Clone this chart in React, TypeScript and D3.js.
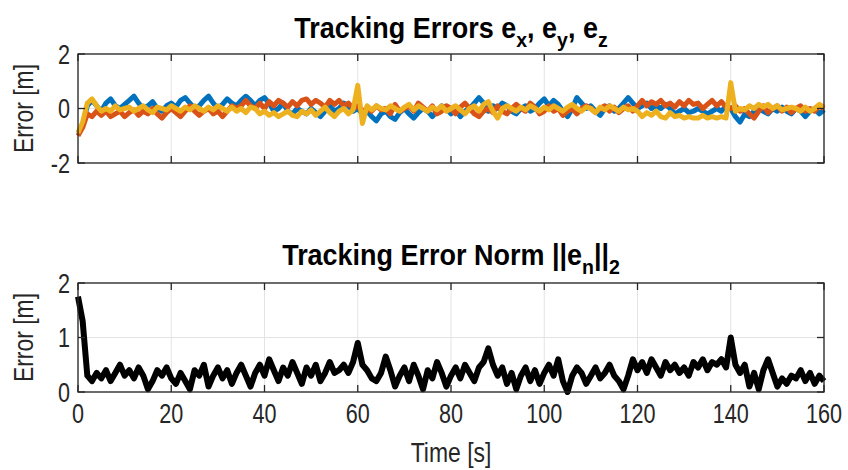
import React from "react";
import * as d3 from "d3";

const timeSeconds = d3.range(0, 161);

const errorX = [
  -0.9, -0.6, 0.1, 0.3, 0.1, -0.1, 0.2, 0.35, 0.1, 0.0, 0.15, 0.3, 0.45, 0.2, 0.0, 0.1, 0.25, 0.0, -0.1, 0.1,
  0.2, 0.05, 0.3, 0.4, 0.2, 0.0, 0.1, 0.3, 0.45, 0.2, 0.0, 0.15, 0.35, 0.2, 0.1, 0.3, 0.45, 0.3, 0.1, 0.3,
  0.4, 0.2, -0.1, 0.0, 0.2, -0.1, -0.2, 0.0, -0.1, -0.2, 0.0, -0.15, -0.3, -0.1, 0.1, -0.1, 0.0, 0.2, 0.1, -0.1,
  0.0, -0.2, -0.1, -0.3, -0.45, -0.2, -0.1, -0.3, -0.4, -0.15, 0.0, -0.2, -0.35, -0.15, 0.0, -0.1, -0.3, -0.1, 0.1, 0.0,
  -0.2, -0.05, -0.3, -0.1, 0.0, 0.2, 0.4, 0.2, -0.1, 0.1, 0.0, 0.2, 0.1, -0.1, -0.2, 0.0, 0.1, -0.1, 0.0, 0.2,
  0.35, 0.1, 0.3, 0.15, -0.1, -0.3, 0.0, 0.4, 0.2, 0.0, 0.1, -0.1, -0.25, 0.0, 0.1, -0.1, 0.0, 0.2, 0.4, 0.2,
  0.0, 0.1, 0.2, 0.0, 0.1, 0.0, 0.15, 0.0, -0.2, -0.1, 0.0, -0.15, -0.1, 0.0, -0.1, -0.2, -0.1, 0.0, -0.1, 0.1,
  0.0, -0.3, -0.5, -0.2, -0.3, -0.1, 0.0, -0.1, -0.2, 0.0, -0.1, 0.05, -0.1, -0.2, 0.0, -0.1, -0.3, -0.1, 0.0, -0.2,
  -0.05,
];

const errorY = [
  -1.0, -0.7, -0.2, -0.3, -0.1, -0.25, -0.1, -0.3, -0.2, -0.1, -0.3, -0.15, -0.05, -0.25, -0.1, -0.2, 0.0, -0.2, -0.35, -0.15,
  0.0, -0.15, -0.3, -0.1, 0.1, -0.1, -0.25, -0.1, 0.0, -0.2, -0.1, -0.3, -0.1, 0.1, 0.0, 0.1, 0.3, 0.1, 0.0, 0.2,
  0.0, 0.25, 0.1, 0.3, 0.2, 0.05, 0.25, 0.1, 0.3, 0.35, 0.15, 0.3, 0.2, 0.05, 0.3, 0.15, 0.3, 0.1, 0.2, 0.0,
  0.1, -0.1, 0.0, -0.1, 0.1, -0.05, 0.0, -0.2, 0.15, -0.1, 0.0, 0.1, -0.1, 0.2, 0.05, -0.1, 0.1, -0.2, -0.1, 0.1,
  0.0, -0.2, 0.05, 0.2, 0.0, -0.2, -0.3, -0.1, 0.0, -0.15, 0.1, -0.1, -0.2, 0.0, 0.15, 0.0, -0.1, 0.2, 0.05, -0.2,
  -0.1, 0.1, -0.1, 0.0, -0.25, -0.1, 0.0, -0.2, 0.0, 0.1, 0.0, -0.15, 0.0, 0.1, -0.1, 0.05, -0.15, 0.0, 0.1, -0.1,
  0.1, 0.3, 0.1, 0.25, 0.15, 0.3, 0.1, 0.2, 0.05, 0.25, 0.1, 0.3, 0.15, 0.2, 0.0, 0.15, 0.3, 0.1, 0.25, 0.05,
  0.0, 0.1, -0.1, 0.0, -0.2, -0.35, -0.1, 0.1, -0.15, 0.0, 0.1, -0.1, 0.05, -0.15, 0.0, 0.1, -0.1, 0.0, -0.1, 0.1,
  0.0,
];

const errorZ = [
  -0.9, -0.5, 0.2, 0.35, 0.1, -0.1, 0.0, -0.1, 0.1, -0.05, 0.0, 0.05, -0.1, 0.0, 0.1, -0.05, -0.15, 0.05, 0.0, -0.05,
  0.1, 0.0, -0.1, 0.05, -0.05, 0.1, 0.0, -0.1, 0.05, -0.05, 0.1, 0.0, -0.1, 0.05, -0.1, 0.0, -0.15, 0.05, 0.0, -0.2,
  -0.1, -0.25, -0.15, -0.3, -0.2, -0.1, -0.25, -0.3, -0.1, -0.2, -0.05, -0.25, -0.1, 0.05, -0.15, -0.3, -0.1, 0.0, -0.2, -0.05,
  0.85, -0.55, 0.1, -0.05, 0.1, 0.0, -0.05, 0.1, 0.0, -0.1, 0.05, 0.15, -0.05, 0.1, 0.0, -0.1, 0.05, -0.05, 0.1, -0.1,
  0.0, 0.1, -0.05, -0.2, 0.0, 0.1, -0.1, 0.15, 0.25, -0.1, -0.35, 0.0, 0.1, 0.0, -0.1, 0.05, -0.05, 0.1, 0.0, -0.1,
  0.05, -0.05, 0.1, 0.0, -0.1, 0.05, 0.15, 0.0, -0.1, 0.05, 0.0, -0.15, 0.05, -0.05, 0.1, 0.0, -0.1, 0.05, -0.05, 0.0,
  -0.1, -0.3, -0.15, -0.25, -0.1, -0.3, -0.35, -0.15, -0.3, -0.25, -0.35, -0.3, -0.35, -0.35, -0.25, -0.35, -0.3, -0.35, -0.3, -0.35,
  0.95, -0.1, 0.0, -0.05, 0.1, 0.0, 0.15, 0.05, 0.15, 0.0, 0.1, -0.05, 0.0, 0.05, 0.0, -0.1, 0.05, -0.1, 0.0, 0.15,
  0.05,
];

const errorNorm = [
  1.75, 1.3, 0.3, 0.2, 0.35, 0.25, 0.4, 0.2, 0.35, 0.5, 0.3, 0.4, 0.25, 0.45, 0.3, 0.05, 0.2, 0.4, 0.3, 0.45,
  0.25, 0.15, 0.35, 0.2, 0.05, 0.4, 0.3, 0.5, 0.1, 0.3, 0.45, 0.25, 0.4, 0.15, 0.35, 0.5, 0.3, 0.1, 0.35, 0.5,
  0.3, 0.6, 0.4, 0.2, 0.45, 0.3, 0.55, 0.35, 0.15, 0.45, 0.3, 0.5, 0.2, 0.35, 0.55, 0.35, 0.4, 0.5, 0.35, 0.55,
  0.9, 0.5, 0.4, 0.25, 0.2, 0.35, 0.65, 0.4, 0.1, 0.3, 0.45, 0.2, 0.5, 0.3, 0.05, 0.4, 0.25, 0.55, 0.35, 0.1,
  0.3, 0.45, 0.25, 0.5, 0.35, 0.2, 0.45, 0.55, 0.8, 0.5, 0.3, 0.45, 0.15, 0.35, 0.05, 0.3, 0.45, 0.2, 0.4, 0.15,
  0.35, 0.5, 0.3, 0.6, 0.2, 0.0, 0.3, 0.45, 0.35, 0.15, 0.3, 0.45, 0.25, 0.35, 0.5, 0.3, 0.2, 0.05, 0.3, 0.6,
  0.4, 0.55, 0.35, 0.6, 0.45, 0.3, 0.55, 0.4, 0.5, 0.35, 0.45, 0.3, 0.55, 0.45, 0.6, 0.4, 0.55, 0.5, 0.6, 0.45,
  1.0, 0.5, 0.35, 0.5, 0.1, 0.35, 0.05, 0.4, 0.6, 0.35, 0.1, 0.25, 0.15, 0.3, 0.25, 0.4, 0.2, 0.35, 0.15, 0.3,
  0.2,
];

const xTicks = [0, 20, 40, 60, 80, 100, 120, 140, 160];
const topYTicks = [-2, 0, 2];
const bottomYTicks = [0, 1, 2];

const seriesColors = ["#0072BD", "#D95319", "#EDB120"];

const W = 848;
const H = 470;
const left = 78;
const right = 824;
const FONT = "'Liberation Sans', Arial, Helvetica, sans-serif";

function NText({ x, y, sx = 0.8, size = 27, weight = "normal", anchor = "middle", rotate = 0, fill = "#262626", dy = "0", children }) {
  return (
    <g transform={`translate(${x},${y}) rotate(${rotate}) scale(${sx},1)`}>
      <text x={0} y={0} dy={dy} textAnchor={anchor} fontSize={size} fontWeight={weight} fill={fill} fontFamily={FONT}>
        {children}
      </text>
    </g>
  );
}

function Axes({ top, bottom, yDomain, yTicks, children, showXLabels }) {
  const x = d3.scaleLinear().domain([0, 160]).range([left, right]);
  const y = d3.scaleLinear().domain(yDomain).range([bottom, top]);
  const tickLen = 7;
  return (
    <g>
      {xTicks.map((t) => (
        <line key={"gx" + t} x1={x(t)} x2={x(t)} y1={top} y2={bottom} stroke="#e3e3e3" strokeWidth={1} />
      ))}
      {yTicks.map((t) => (
        <line key={"gy" + t} x1={left} x2={right} y1={y(t)} y2={y(t)} stroke="#e3e3e3" strokeWidth={1} />
      ))}
      {children(x, y)}
      <rect x={left} y={top} width={right - left} height={bottom - top} fill="none" stroke="#262626" strokeWidth={1.3} />
      {xTicks.map((t) => (
        <g key={"tx" + t}>
          <line x1={x(t)} x2={x(t)} y1={bottom} y2={bottom - tickLen} stroke="#262626" strokeWidth={1.3} />
          <line x1={x(t)} x2={x(t)} y1={top} y2={top + tickLen} stroke="#262626" strokeWidth={1.3} />
        </g>
      ))}
      {yTicks.map((t) => (
        <g key={"ty" + t}>
          <line x1={left} x2={left + tickLen} y1={y(t)} y2={y(t)} stroke="#262626" strokeWidth={1.3} />
          <line x1={right} x2={right - tickLen} y1={y(t)} y2={y(t)} stroke="#262626" strokeWidth={1.3} />
          <NText x={left - 8} y={y(t)} dy="0.36em" anchor="end">
            {t}
          </NText>
        </g>
      ))}
      {showXLabels &&
        xTicks.map((t) => (
          <NText key={"lx" + t} x={x(t)} y={bottom + 31}>
            {t}
          </NText>
        ))}
      <NText x={33} y={(top + bottom) / 2} rotate={-90} sx={0.85}>
        Error [m]
      </NText>
    </g>
  );
}

export default function App() {
  const topT = 54;
  const topB = 163;
  const botT = 283;
  const botB = 392;
  return (
    <div style={{ position: "absolute", left: 0, top: 0 }}>
      <svg width={W} height={H} style={{ display: "block", background: "#fff" }}>
        <NText x={451} y={38} size={29} weight="bold" sx={0.93} fill="#000">
          Tracking Errors e<tspan fontSize={21} dy={9}>x</tspan>
          <tspan dy={-9}>, e</tspan>
          <tspan fontSize={21} dy={9}>y</tspan>
          <tspan dy={-9}>, e</tspan>
          <tspan fontSize={21} dy={9}>z</tspan>
        </NText>
        <Axes top={topT} bottom={topB} yDomain={[-2, 2]} yTicks={topYTicks} showXLabels={false}>
          {(x, y) =>
            [errorX, errorY, errorZ].map((s, i) => (
              <path
                key={i}
                d={
                  d3
                    .line<number>()
                    .x((_, j) => x(timeSeconds[j]))
                    .y((v) => y(v))(s) || ""
                }
                fill="none"
                stroke={seriesColors[i]}
                strokeWidth={5}
                strokeLinejoin="round"
              />
            ))
          }
        </Axes>
        <NText x={451} y={265} size={29} weight="bold" sx={0.93} fill="#000">
          Tracking Error Norm ||e<tspan fontSize={21} dy={9}>n</tspan>
          <tspan dy={-9}>||</tspan>
          <tspan fontSize={21} dy={9}>2</tspan>
        </NText>
        <Axes top={botT} bottom={botB} yDomain={[0, 2]} yTicks={bottomYTicks} showXLabels={true}>
          {(x, y) => (
            <path
              d={
                d3
                  .line<number>()
                  .x((_, j) => x(timeSeconds[j]))
                  .y((v) => y(v))(errorNorm) || ""
              }
              fill="none"
              stroke="#000"
              strokeWidth={6}
              strokeLinejoin="round"
            />
          )}
        </Axes>
        <NText x={451} y={462} sx={0.85}>
          Time [s]
        </NText>
      </svg>
    </div>
  );
}
